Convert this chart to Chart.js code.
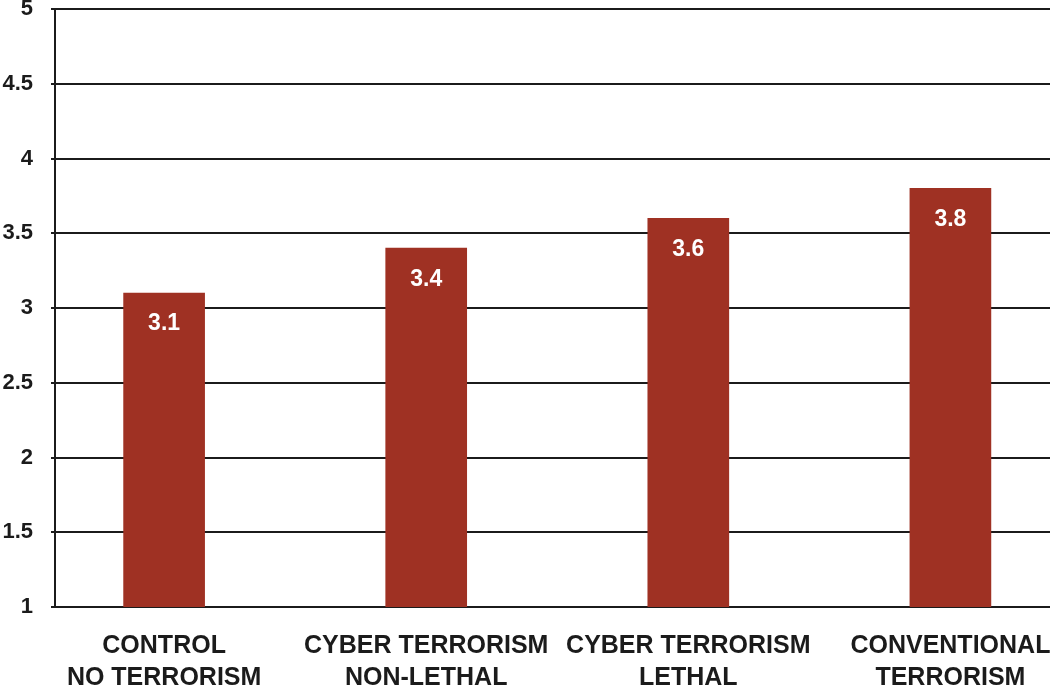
<!DOCTYPE html>
<html>
<head>
<meta charset="utf-8">
<script src="https://cdn.jsdelivr.net/npm/chart.js@4/dist/chart.umd.min.js"></script>
<style>
    html, body { margin: 0; padding: 0; background: #ffffff; }
    #wrap { width: 1050px; height: 685px; }
</style>
</head>
<body>
<div id="wrap"><canvas id="myChart" width="1050" height="685"></canvas></div>
<script>
//Chart data
var categories = [
    ["CONTROL", "NO TERRORISM"],
    ["CYBER TERRORISM", "NON-LETHAL"],
    ["CYBER TERRORISM", "LETHAL"],
    ["CONVENTIONAL", "TERRORISM"]
];
var values = [3.1, 3.4, 3.6, 3.8];
var yTicks = [1, 1.5, 2, 2.5, 3, 3.5, 4, 4.5, 5];

var barColour = "#9f3123";
var inkColour = "#1b1b1b";

///Writes the value inside the top of each bar
var valueLabels = {
    id: "valueLabels",
    afterDatasetsDraw: function (chart) {
        var ctx = chart.ctx;
        var meta = chart.getDatasetMeta(0);
        ctx.save();
        ctx.fillStyle = "#ffffff";
        ctx.font = "bold 23px 'Liberation Sans', Arial, sans-serif";
        ctx.textAlign = "center";
        ctx.textBaseline = "middle";
        meta.data.forEach(function (bar, i) {
            ctx.fillText(values[i].toFixed(1), bar.x, bar.y + 31);
        });
        ctx.restore();
    }
};

function drawGraph() {
    var points = values.map(function (v, i) {
        return { x: i, y: v };
    });

    new Chart("myChart", {
        type: "bar",
        data: {
            datasets: [{
                label: "Mean",
                data: points,
                backgroundColor: barColour,
                borderWidth: 0,
                barThickness: 81
            }]
        },
        options: {
            responsive: false,
            animation: false,
            layout: { padding: 0 },
            plugins: {
                legend: { display: false },
                tooltip: { enabled: false }
            },
            scales: {
                x: {
                    type: "linear",
                    offset: false,
                    min: -0.4163,
                    max: 3.380,
                    afterFit: function (scale) {
                        scale.height = 78;
                        scale.paddingLeft = 0;
                        scale.paddingRight = 0;
                    },
                    grid: { display: false, drawTicks: false },
                    border: { display: false },
                    ticks: {
                        stepSize: 1,
                        includeBounds: false,
                        autoSkip: false,
                        maxRotation: 0,
                        padding: 23,
                        color: inkColour,
                        font: { family: "'Liberation Sans', Arial, sans-serif", size: 25, weight: "bold", lineHeight: 1.27 },
                        callback: function (value) {
                            return categories[value] || "";
                        }
                    }
                },
                y: {
                    min: yTicks[0],
                    max: yTicks[yTicks.length - 1],
                    afterFit: function (scale) {
                        scale.width = 55;
                        scale.paddingTop = 9;
                        scale.paddingBottom = 0;
                    },
                    afterBuildTicks: function (scale) {
                        scale.ticks = yTicks.map(function (v) { return { value: v }; });
                    },
                    grid: {
                        color: inkColour,
                        lineWidth: 2,
                        tickLength: 4
                    },
                    border: { display: true, color: inkColour, width: 2 },
                    ticks: {
                        padding: 18,
                        color: inkColour,
                        font: { family: "'Liberation Sans', Arial, sans-serif", size: 22, weight: "bold" },
                        callback: function (value) {
                            return String(value);
                        }
                    }
                }
            }
        },
        plugins: [valueLabels]
    });
}

window.onload = function () {
    drawGraph();
};
</script>
</body>
</html>
